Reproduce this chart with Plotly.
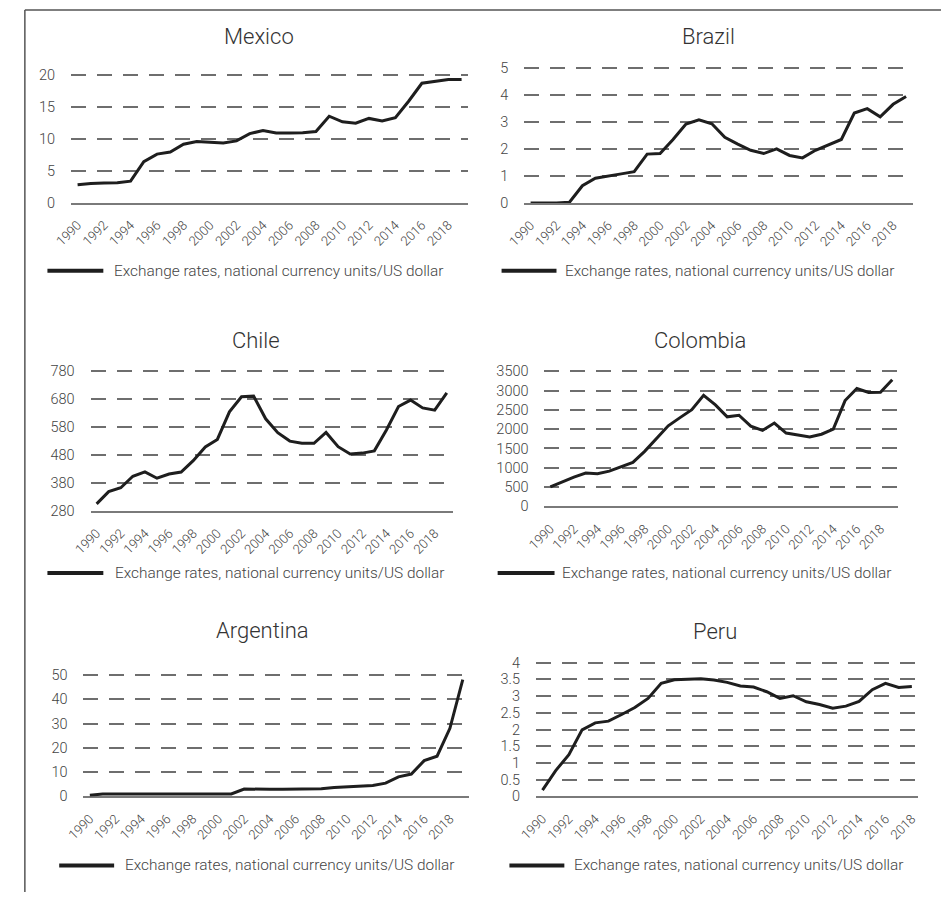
import plotly.graph_objects as go

years = [str(y) for y in range(1990, 2020)]
years_peru = [str(y) for y in range(1990, 2019)]
tick_years = [str(y) for y in range(1990, 2019, 2)]

mexico = [2.81, 3.02, 3.09, 3.12, 3.38, 6.42, 7.60, 7.92, 9.14, 9.56, 9.46, 9.34, 9.66, 10.79, 11.29,
          10.90, 10.90, 10.93, 11.13, 13.51, 12.64, 12.42, 13.17, 12.77, 13.29, 15.85, 18.66, 18.93, 19.24, 19.26]
brazil = [0.0, 0.0, 0.0, 0.03, 0.64, 0.92, 1.01, 1.08, 1.16, 1.81, 1.83, 2.35, 2.92, 3.08, 2.93,
          2.43, 2.18, 1.95, 1.83, 2.00, 1.76, 1.67, 1.95, 2.16, 2.35, 3.33, 3.49, 3.19, 3.65, 3.94]
chile = [305, 349, 363, 404, 420, 397, 412, 419, 460, 509, 536, 635, 689, 691, 610,
         560, 530, 522, 522, 561, 510, 484, 487, 495, 570, 654, 677, 649, 641, 703]
colombia = [502, 633, 759, 863, 845, 913, 1037, 1141, 1426, 1756, 2088, 2300, 2504, 2878, 2629,
            2321, 2361, 2078, 1968, 2158, 1899, 1848, 1797, 1869, 2002, 2742, 3054, 2951, 2956, 3281]
argentina = [0.49, 0.95, 0.99, 1.0, 1.0, 1.0, 1.0, 1.0, 1.0, 1.0, 1.0, 1.0, 3.06, 2.90, 2.92,
             2.90, 3.05, 3.10, 3.14, 3.71, 3.90, 4.11, 4.54, 5.46, 8.08, 9.23, 14.76, 16.56, 28.09, 48.15]
peru = [0.19, 0.77, 1.25, 1.99, 2.20, 2.25, 2.45, 2.66, 2.93, 3.38, 3.49, 3.51, 3.52, 3.48, 3.41,
        3.30, 3.27, 3.13, 2.93, 3.01, 2.83, 2.75, 2.64, 2.70, 2.84, 3.19, 3.38, 3.26, 3.29]

legend_text = "Exchange rates, national currency units/US dollar"

W, H = 941, 901
FONT = "Roboto, 'Liberation Sans', Arial, sans-serif"
WEIGHT = 300

# panel specs: name, x, y, x-domain px, y-domain px (top, bottom), y range, dtick, tick0,
# title center (x,y), legend line (x0, x1, y), legend text x
panels = [
    ("Mexico", years, mexico, (54, 459), (71.7, 201.7), (0, 20), 5, 0, (246, 33), (30, 87, 270.7), 96),
    ("Brazil", years, brazil, (516, 912), (64.7, 202), (0, 5), 1, 0, (704, 33), (493, 549, 270.7), 556),
    ("Chile", years, chile, (74, 443.3), (372.7, 514.3), (280, 780), 100, 280, (242.5, 341.7), (30, 87, 577.3), 97),
    ("Colombia", years, colombia, (536.7, 897.3), (372.7, 509.7), (0, 3500), 500, 0, (695, 341.7), (489, 547, 577.3), 552.7),
    ("Argentina", years, argentina, (66.7, 460), (681, 804), (0, 50), 10, 0, (249.3, 636), (42, 98, 874), 107),
    ("Peru", years_peru, peru, (528, 918), (668.3, 804), (0, 4), 0.5, 0, (711, 636.5), (501, 557, 874), 565),
]

fig = go.Figure()
shapes = []
annotations = []

def px_x(v):
    return v / W

def px_y(v):
    return 1 - v / H

PAD = 0.03  # headroom so the top gridline is drawn

for i, (name, xs, ys, xd, yd, yr, dt, t0, tpos, lline, ltx) in enumerate(panels):
    n = "" if i == 0 else str(i + 1)
    span = yr[1] - yr[0]
    top_px = yd[0] - PAD * (yd[1] - yd[0])
    fig.add_trace(go.Scatter(
        x=xs, y=ys, mode="lines",
        line=dict(color="#1e1e1e", width=3),
        xaxis="x" + n, yaxis="y" + n, showlegend=False, hoverinfo="skip"))
    fig.layout["xaxis" + n] = dict(
        domain=[px_x(xd[0]), px_x(xd[1])], anchor="y" + n, type="category",
        categoryorder="array", categoryarray=xs,
        range=[-0.5, len(xs) - 0.5],
        tickmode="array", tickvals=tick_years, ticktext=tick_years,
        tickangle=-45, ticks="outside", ticklen=8, tickcolor="rgba(0,0,0,0)",
        tickfont=dict(family=FONT, size=13, color="#444", weight=WEIGHT),
        showline=True, linecolor="#7a7a7a", linewidth=1.5,
        showgrid=False, zeroline=False, layer="below traces", fixedrange=True)
    fig.layout["yaxis" + n] = dict(
        domain=[px_y(yd[1]), px_y(top_px)], anchor="x" + n,
        range=[yr[0], yr[1] + PAD * span], tick0=t0, dtick=dt, tickmode="linear",
        ticks="outside", ticklen=12, tickcolor="rgba(0,0,0,0)",
        tickfont=dict(family=FONT, size=14.5, color="#444", weight=WEIGHT),
        showgrid=True, gridcolor="#6e6e6e", gridwidth=2, griddash="15px,11px",
        zeroline=False, showline=False, layer="below traces", fixedrange=True)
    annotations.append(dict(
        text=name, x=px_x(tpos[0]), y=px_y(tpos[1]), xref="paper", yref="paper",
        xanchor="center", yanchor="middle", showarrow=False,
        font=dict(family=FONT, size=22, color="#333", weight=WEIGHT)))
    shapes.append(dict(type="line", xref="paper", yref="paper",
                       x0=px_x(lline[0]), x1=px_x(lline[1]), y0=px_y(lline[2]), y1=px_y(lline[2]),
                       line=dict(color="#1e1e1e", width=4)))
    annotations.append(dict(
        text=legend_text, x=px_x(ltx), y=px_y(lline[2]), xref="paper", yref="paper",
        xanchor="left", yanchor="middle", showarrow=False,
        font=dict(family=FONT, size=15.4, color="#444", weight=WEIGHT)))

# outer frame (left and top edges)
shapes.append(dict(type="line", xref="paper", yref="paper",
                   x0=px_x(7), x1=px_x(7), y0=0, y1=px_y(6),
                   line=dict(color="#555", width=1.5)))
shapes.append(dict(type="line", xref="paper", yref="paper",
                   x0=px_x(7), x1=1, y0=px_y(6), y1=px_y(6),
                   line=dict(color="#555", width=1.5)))

fig.update_layout(
    width=W, height=H, margin=dict(l=0, r=0, t=0, b=0),
    paper_bgcolor="white", plot_bgcolor="white",
    shapes=shapes, annotations=annotations, showlegend=False,
    font=dict(family=FONT, color="#444"))

fig.write_html("out.html", config={"displayModeBar": False},
               post_script="document.body.style.margin='0';document.body.style.overflow='hidden';")
